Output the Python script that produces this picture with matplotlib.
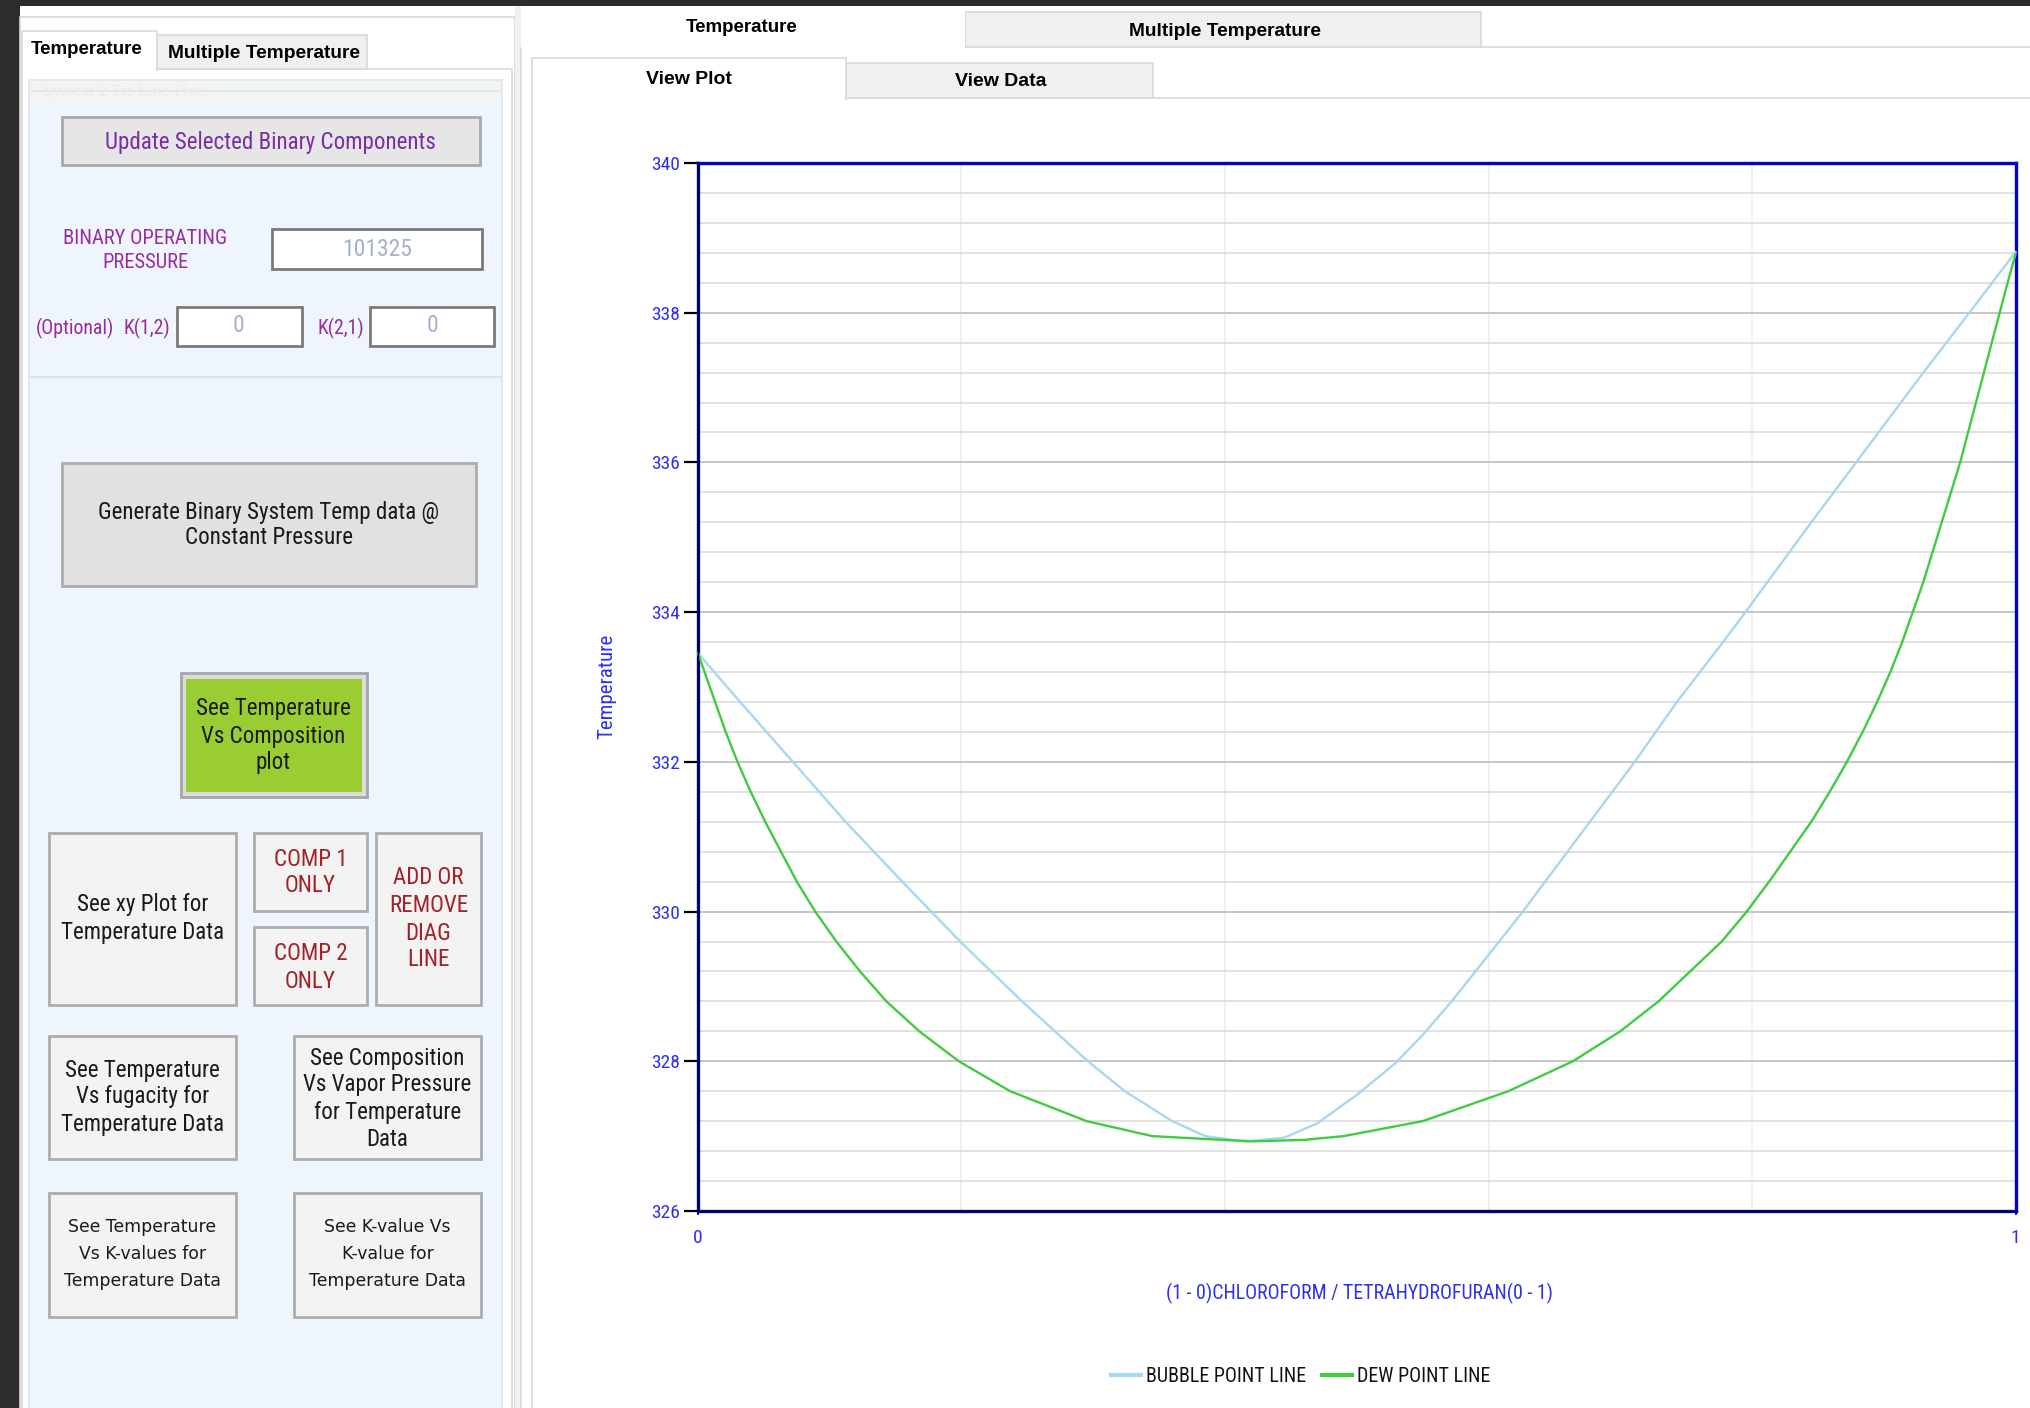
"""Binary T-x-y screen: bubble / dew point lines for chloroform / THF."""
import matplotlib
matplotlib.use("Agg")
import matplotlib.pyplot as plt
from matplotlib import font_manager
from matplotlib.patches import Rectangle
from matplotlib.lines import Line2D
import numpy as np

W, H = 2031, 1408

# ── fonts ──────────────────────────────────────────────────────────────────
avail = {f.name for f in font_manager.fontManager.ttflist}
NARROW = next((f for f in ["Liberation Sans Narrow", "Roboto Condensed"] if f in avail),
              "Liberation Sans")
NS = 1.0 if NARROW != "Liberation Sans" else 0.82
WIDE = "DejaVu Sans"
BOLD = "Liberation Sans"

# ── data ──────────────────────────────────────────────────────────────────
bubble_x = [0.0, 0.032, 0.072, 0.112, 0.155, 0.177, 0.199, 0.246, 0.296, 0.324,
            0.36, 0.385, 0.415, 0.445, 0.47, 0.5, 0.529, 0.551, 0.572, 0.6, 0.626,
            0.66, 0.694, 0.711, 0.743, 0.778, 0.795, 0.845, 0.879, 0.896, 0.93,
            0.965, 1.0]
bubble_T = [333.45, 332.8, 332.0, 331.2, 330.4, 330.0, 329.6, 328.8, 328.0, 327.6,
            327.2, 327.0, 326.93, 326.98, 327.17, 327.55, 327.97, 328.37, 328.8,
            329.42, 330.0, 330.8, 331.6, 332.0, 332.8, 333.6, 334.0, 335.2, 336.0,
            336.4, 337.2, 338.0, 338.81]

dew_x = [0.0, 0.013, 0.021, 0.030, 0.040, 0.051, 0.063, 0.075, 0.089, 0.105, 0.123,
         0.143, 0.168, 0.198, 0.237, 0.295, 0.345, 0.42, 0.46, 0.49, 0.55, 0.615,
         0.664, 0.70, 0.729, 0.753, 0.777, 0.796, 0.813, 0.829, 0.845, 0.859, 0.872,
         0.884, 0.895, 0.905, 0.914, 0.922, 0.930, 0.937, 0.944, 0.951, 0.958, 0.964,
         0.970, 0.976, 0.982, 0.988, 0.994, 1.0]
dew_T = [333.45, 332.8, 332.4, 332.0, 331.6, 331.2, 330.8, 330.4, 330.0, 329.6, 329.2,
         328.8, 328.4, 328.0, 327.6, 327.2, 327.0, 326.93, 326.95, 327.0, 327.2, 327.6,
         328.0, 328.4, 328.8, 329.2, 329.6, 330.0, 330.4, 330.8, 331.2, 331.6, 332.0,
         332.4, 332.8, 333.2, 333.6, 334.0, 334.4, 334.8, 335.2, 335.6, 336.0, 336.4,
         336.8, 337.2, 337.6, 338.0, 338.4, 338.78]

y_ticks = [326, 328, 330, 332, 334, 336, 338, 340]
x_ticks = [0, 1]
x_label = "(1 - 0)CHLOROFORM / TETRAHYDROFURAN(0 - 1)"
y_label = "Temperature"
series_names = ["BUBBLE POINT LINE", "DEW POINT LINE"]

BLUE_TXT = "#2f2ff0"
BUBBLE_C = "#a6d8ee"
DEW_C = "#3fcc3f"

fig = plt.figure(figsize=(W / 100, H / 100), dpi=100)
fig.patch.set_facecolor("#ffffff")

# ── background "window" drawn in pixel coordinates ─────────────────────────
bg = fig.add_axes([0, 0, 1, 1])
bg.set_xlim(0, W)
bg.set_ylim(H, 0)
bg.axis("off")


def box(x0, y0, x1, y1, fc, ec="none", lw=1.5, z=1):
    bg.add_patch(Rectangle((x0, y0), x1 - x0, y1 - y0, facecolor=fc,
                           edgecolor=ec, linewidth=lw, zorder=z))


def txt(x, y, s, size, color="#1a1a1a", family=NARROW, weight="normal", z=5, **kw):
    bg.text(x, y, s, fontsize=size, color=color, family=family, weight=weight,
            ha="center", va="center", zorder=z, **kw)


# dark desktop frame
box(0, 0, W, H, "#2c2c2c", z=0)
box(20, 6, W, H, "#ffffff", z=0.5)

# left panel
box(20, 17, 515, H + 5, "#ffffff", "#d9d9d9", 1.2)
box(22, 69, 512, H + 5, "#ffffff", "#d9d9d9", 1.2)
box(157, 35, 367, 69, "#f0f0f0", "#d9d9d9", 1.2, z=2)
box(22, 31, 157, 70, "#ffffff", "#d9d9d9", 1.2, z=2)
box(23, 66, 156, 72, "#ffffff", z=2.1)
txt(87, 50, "Temperature", 13.5, "#000000", BOLD, "bold")
txt(264, 54, "Multiple Temperature", 13.8, "#000000", BOLD, "bold")

box(29, 80, 502, H + 5, "#eef5fd", "#dde4ec", 1.2, z=1.5)
box(30, 81, 501, 102, "#f2f4f6", z=1.6)
bg.plot([32, 500], [91, 91], color="#e2e2e2", lw=1.2, zorder=1.7)
txt(126, 92, "System 2 Tie Line Plots", 10, "#ebebeb", "DejaVu Serif", z=1.8)
bg.plot([30, 501], [377, 377], color="#dbe2ea", lw=1.5, zorder=1.7)

# splitter
box(515, 6, 521, H + 5, "#f0f0f0", z=1)

# right panel tabs
box(521, 47, W + 5, H + 5, "#ffffff", "#d9d9d9", 1.2)
box(965, 12, 1481, 47, "#f0f0f0", "#d9d9d9", 1.2, z=2)
box(521, 6, 965, 48, "#ffffff", z=2.1)
txt(742, 27, "Temperature", 13.5, "#000000", BOLD, "bold")
txt(1225, 31, "Multiple Temperature", 13.8, "#000000", BOLD, "bold")
box(532, 98, W + 5, H + 5, "#ffffff", "#d9d9d9", 1.2, z=2)
box(846, 63, 1153, 98, "#f0f0f0", "#d9d9d9", 1.2, z=2.2)
box(532, 58, 846, 99, "#ffffff", "#d9d9d9", 1.2, z=2.3)
box(533, 96, 845, 101, "#ffffff", z=2.4)
txt(689, 79, "View Plot", 14, "#000000", BOLD, "bold")
txt(1001, 82, "View Data", 14, "#000000", BOLD, "bold")

# controls in the left panel
PURPLE = "#7a2ea6"
MAGENTA = "#9a2a9e"
DARKRED = "#a3222a"
FIELD = "#a3b3cc"
BSIZE = 16.6 * NS

box(62, 117, 480, 165, "#e6e6e6", "#a9a9a9", 2, z=3)
txt(270, 142, "Update Selected Binary Components", BSIZE, PURPLE)

txt(145, 238, "BINARY OPERATING", 14.8 * NS, MAGENTA)
txt(145, 263, "PRESSURE", 14.8 * NS, MAGENTA)
box(272, 229, 482, 269, "#ffffff", "#7a7a7a", 2, z=3)
txt(377, 249, "101325", 17 * NS, FIELD)

txt(75, 328, "(Optional)", 14.3 * NS, MAGENTA)
txt(147, 328, "K(1,2)", 14.3 * NS, MAGENTA)
box(177, 307, 302, 346, "#ffffff", "#7a7a7a", 2, z=3)
txt(239, 326, "0", 17 * NS, FIELD)
txt(341, 328, "K(2,1)", 14.3 * NS, MAGENTA)
box(370, 307, 494, 346, "#ffffff", "#7a7a7a", 2, z=3)
txt(432, 326, "0", 17 * NS, FIELD)

box(62, 463, 476, 586, "#e1e1e1", "#adadad", 2, z=3)
txt(269, 512, "Generate Binary System Temp data @", BSIZE)
txt(269, 538, "Constant Pressure", BSIZE)

box(181, 673, 367, 797, "#dcdcdc", "#a6a6a6", 2, z=3)
box(186, 679, 362, 792, "#9acd32", z=3.1)
for yy, s in zip([709, 736, 763], ["See Temperature", "Vs Composition", "plot"]):
    txt(273, yy, s, BSIZE)

buttons = [
    (49, 833, 236, 1005, [904, 933], ["See xy Plot for", "Temperature Data"], "#1a1a1a", NARROW, BSIZE),
    (254, 833, 367, 911, [859, 886], ["COMP 1", "ONLY"], DARKRED, NARROW, BSIZE),
    (254, 927, 367, 1005, [953, 981], ["COMP 2", "ONLY"], DARKRED, NARROW, BSIZE),
    (376, 833, 481, 1005, [878, 905, 933, 960], ["ADD OR", "REMOVE", "DIAG", "LINE"], DARKRED, NARROW, BSIZE),
    (49, 1036, 236, 1159, [1070, 1097, 1124], ["See Temperature", "Vs fugacity for", "Temperature Data"], "#1a1a1a", NARROW, BSIZE),
    (294, 1036, 481, 1159, [1058, 1085, 1113, 1140], ["See Composition", "Vs Vapor Pressure", "for Temperature", "Data"], "#1a1a1a", NARROW, BSIZE),
    (49, 1193, 236, 1317, [1227, 1254, 1281], ["See Temperature", "Vs K-values for", "Temperature Data"], "#1a1a1a", WIDE, 12.4),
    (294, 1193, 481, 1317, [1227, 1254, 1281], ["See K-value Vs", "K-value for", "Temperature Data"], "#1a1a1a", WIDE, 12.4),
]
for x0, y0, x1, y1, ys, lines, col, fam, size in buttons:
    box(x0, y0, x1, y1, "#f3f3f3", "#adadad", 2, z=3)
    for yy, s in zip(ys, lines):
        txt((x0 + x1) / 2, yy, s, size, col, fam)

# ── the chart ──────────────────────────────────────────────────────────────
L, R, T, B = 698, 2015.5, 163, 1211
ax = fig.add_axes([L / W, 1 - B / H, (R - L) / W, (B - T) / H], zorder=5)
ax.set_facecolor("#ffffff")

ax.plot(bubble_x, bubble_T, color=BUBBLE_C, lw=1.7, zorder=3, clip_on=False)
ax.plot(dew_x, dew_T, color=DEW_C, lw=1.7, zorder=3, clip_on=False)

ax.set_xlim(0, 1)
ax.set_ylim(326, 340)
ax.set_yticks(y_ticks)
ax.set_yticklabels([str(v) for v in y_ticks])
ax.set_yticks(np.arange(326, 340.01, 0.4), minor=True)
ax.set_xticks(x_ticks)
ax.set_xticklabels([str(v) for v in x_ticks])
ax.set_xticks([0.2, 0.4, 0.6, 0.8], minor=True)

ax.grid(which="major", axis="y", color="#c6c6c6", lw=1.4, zorder=1)
ax.grid(which="minor", axis="y", color="#dedede", lw=1.3, zorder=1)
ax.grid(which="minor", axis="x", color="#ececec", lw=1.1, zorder=1)
ax.tick_params(axis="y", which="major", length=10, width=1.6, color="#000000",
               pad=3, labelsize=14 * NS, labelcolor=BLUE_TXT)
ax.tick_params(axis="x", which="major", length=3, width=1.2, color="#000000",
               pad=10, labelsize=14 * NS, labelcolor=BLUE_TXT)
ax.tick_params(which="minor", length=0)
for lab in ax.get_xticklabels() + ax.get_yticklabels():
    lab.set_family(NARROW)

for side in ["top", "right", "left", "bottom"]:
    ax.spines[side].set_color("#0000d0")
    ax.spines[side].set_linewidth(2.4)
ax.axvline(0, color="#000000", lw=1.0, zorder=6, clip_on=False)
ax.axhline(326, color="#000000", lw=1.0, zorder=6, clip_on=False)

ax.set_xlabel(x_label, fontsize=14.3 * NS, color=BLUE_TXT, family=NARROW)
ax.xaxis.set_label_coords((1359 - L) / (R - L), -(1293 - B) / (B - T))
ax.xaxis.label.set_va("center")
ax.set_ylabel(y_label, fontsize=15 * NS, color=BLUE_TXT, family=NARROW)
ax.yaxis.set_label_coords((607 - L) / (R - L), (B - 686) / (B - T))
ax.yaxis.label.set_va("center")

handles = [Line2D([], [], color=BUBBLE_C, lw=3), Line2D([], [], color=DEW_C, lw=3)]
ax.legend(handles, series_names, loc="center", bbox_to_anchor=(1301 / W, 1 - 1376 / H),
          bbox_transform=fig.transFigure, ncol=2, frameon=False,
          prop={"family": NARROW, "size": 14.4 * NS}, handlelength=1.5,
          handletextpad=0.25, columnspacing=0.8, labelcolor="#111111")

fig.savefig("out.png", dpi=100, facecolor=fig.get_facecolor())
